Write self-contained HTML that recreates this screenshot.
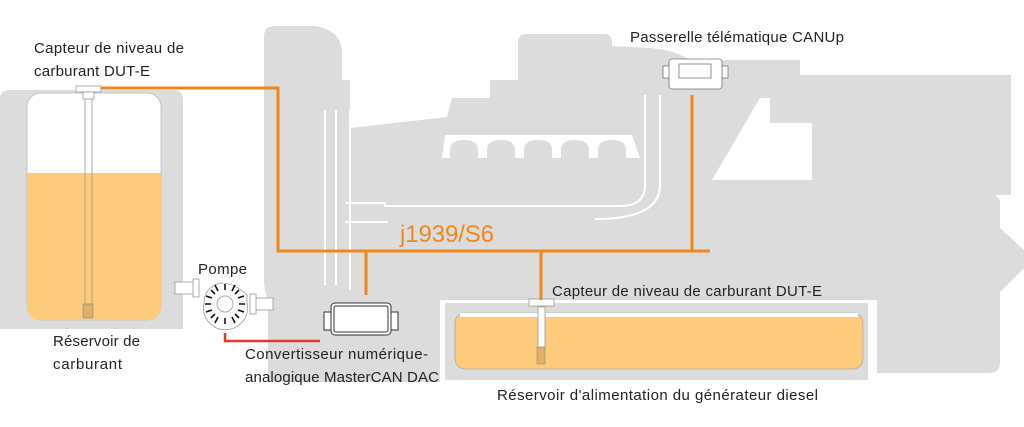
<!DOCTYPE html>
<html><head><meta charset="utf-8"><style>
html,body{margin:0;padding:0;background:#fff;}
svg{display:block;}
text{font-family:"Liberation Sans",sans-serif;font-size:15px;fill:#222;}
</style></head><body>
<svg width="1024" height="427" viewBox="0 0 1024 427" xmlns="http://www.w3.org/2000/svg">
<g fill="#dcdcdc">
  <path d="M264 36 Q264 26 276 26 L315 26 Q340 30 342 50 L342 80 L350 80 L350 128 L447 117 L452 98 L490 98 L490 80 L518 80 L518 42 Q518 34 526 34 L604 34 Q612 34 612 42 L612 46 L650 48 Q675 50 690 60 L800 60 L800 75 L1011 75 L1011 195 L995 195 L1000 200 L1000 228 L1024 250 L1024 268 L1000 292 L1000 362 Q1000 373 990 373 L877 373 L877 300 L445 300 L445 382 L268 382 L268 300 Q264 290 264 280 Z"/>
  <path d="M0 100 Q0 90 10 90 L173 90 Q183 90 183 100 L183 329 L0 329 Z"/>
</g>
<g fill="#fff">
  <polygon points="712,180 760,98 770,98 770,123 812,123 812,180"/>
  <polygon points="442,158 445,135 632,135 640,158"/>
  <rect x="440" y="300" width="437" height="83"/>
</g>
<g fill="#dcdcdc">
  <path d="M450 158 L450 150 Q450 140 464 140 Q478 140 478 150 L478 158 Z"/>
  <path d="M487 158 L487 150 Q487 140 501 140 Q515 140 515 150 L515 158 Z"/>
  <path d="M524 158 L524 150 Q524 140 538 140 Q552 140 552 150 L552 158 Z"/>
  <path d="M561 158 L561 150 Q561 140 575 140 Q589 140 589 150 L589 158 Z"/>
  <path d="M598 158 L598 150 Q598 140 612 140 Q626 140 626 150 L626 158 Z"/>
</g>
<g fill="none" stroke="#fff" stroke-width="2">
  <path d="M350 110 L350 290"/>
  <path d="M345 203 L385 203 L385 206 L620 206 Q645 206 645 185 L645 95"/>
  <path d="M345 222 L388 222 M595 219 Q660 219 660 185 L660 95"/>
  <path d="M325 110 L325 285 M336 110 L336 285"/>
</g>
<rect x="445" y="303" width="423" height="77" fill="#dcdcdc"/>
<rect x="27" y="93" width="134" height="227" rx="14" fill="#fff" stroke="#bbb" stroke-width="0.8"/>
<path d="M27 173 L161 173 L161 306 Q161 320 147 320 L41 320 Q27 320 27 306 Z" fill="#fdcb7c"/>
<rect x="85" y="98" width="7" height="206" fill="none" stroke="#999" stroke-width="0.8"/>
<rect x="83" y="304" width="10" height="14" fill="#e0b060" stroke="#999" stroke-width="0.8"/>
<rect x="76" y="86" width="25" height="6" fill="#fff" stroke="#999" stroke-width="0.8"/>
<rect x="83" y="92" width="11" height="7" fill="#fff" stroke="#999" stroke-width="0.8"/>
<rect x="455" y="313" width="408" height="56" rx="10" fill="#fdcb7c" stroke="#aaa" stroke-width="0.8"/>
<rect x="460" y="313" width="398" height="4" fill="#fff"/>
<rect x="538" y="307" width="7" height="40" fill="#fff" stroke="#999" stroke-width="0.8"/>
<rect x="537" y="347" width="8" height="17" fill="#e0b060" stroke="#999" stroke-width="0.8"/>
<rect x="529" y="299" width="25" height="7" fill="#fff" stroke="#999" stroke-width="0.8"/>
<g stroke="#f0871b" stroke-width="3" fill="none">
  <path d="M101 88 L278 88 L278 251 L710 251"/>
  <path d="M366 251 L366 295"/>
  <path d="M541 251 L541 300"/>
  <path d="M692 95 L692 251"/>
</g>
<path d="M225 333 L225 341 L320 341" stroke="#e03a2a" stroke-width="2.5" fill="none"/>
<g stroke="#999" stroke-width="0.8" fill="#fff">
  <rect x="175" y="282" width="22" height="12"/>
  <rect x="193" y="279" width="6" height="18"/>
  <rect x="255" y="298" width="18" height="12"/>
  <rect x="250" y="294" width="6" height="20"/>
  <path d="M204 303 A22 22 0 1 0 247 303 L247 295 Q235 283 220 283 Q204 288 204 303 Z"/>
  <circle cx="225" cy="304" r="8"/>
</g>
<g stroke="#111" stroke-width="1.6">
  <path d="M225 290 L225 284 M225 318 L225 324 M211 304 L205 304 M239 304 L245 304 M215 294 L211 290 M235 294 L239 290 M215 314 L211 318 M235 314 L239 318 M218 291 L215 285 M232 291 L235 285 M218 317 L215 323 M232 317 L235 323 M212 298 L206 296 M238 298 L244 296 M212 310 L206 312 M238 310 L244 312"/>
</g>
<g stroke="#333" stroke-width="1" fill="#fff">
  <rect x="324" y="312" width="8" height="18"/>
  <rect x="390" y="312" width="8" height="18"/>
  <rect x="331" y="303" width="60" height="32" rx="4"/>
  <rect x="334" y="306" width="54" height="26" rx="2"/>
</g>
<g stroke="#777" stroke-width="0.8" fill="#fff">
  <rect x="663" y="66" width="8" height="12"/>
  <rect x="720" y="66" width="8" height="12"/>
  <rect x="669" y="59" width="53" height="30" rx="3"/>
  <rect x="679" y="64" width="32" height="14"/>
</g>
<text x="34" y="53" textLength="150">Capteur de niveau de</text>
<text x="34" y="76" textLength="116">carburant DUT-E</text>
<text x="630" y="42" textLength="214">Passerelle télématique CANUp</text>
<text x="198" y="274" textLength="49">Pompe</text>
<text x="53" y="346" textLength="87">Réservoir de</text>
<text x="53" y="369" textLength="69">carburant</text>
<text x="245" y="359" textLength="183">Convertisseur numérique-</text>
<text x="245" y="382" textLength="194">analogique MasterCAN DAC</text>
<text x="552" y="296" textLength="270">Capteur de niveau de carburant DUT-E</text>
<text x="497" y="400" textLength="321">Réservoir d'alimentation du générateur diesel</text>
<text x="400" y="242" textLength="94" style="font-size:24px;fill:#f0871b">j1939/S6</text>
</svg>
</body></html>
